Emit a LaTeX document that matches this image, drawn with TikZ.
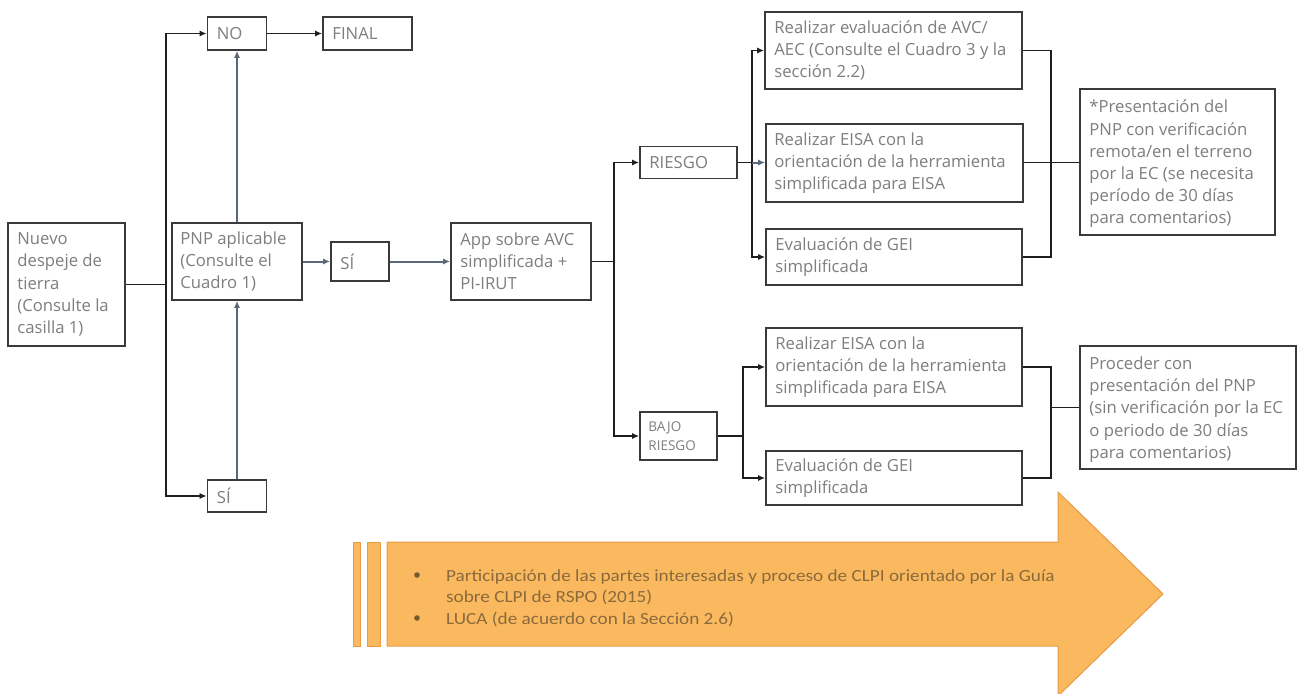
\documentclass[tikz,border=0pt]{standalone}
\usepackage{fontspec}
\newfontfamily\boxfont{Open Sans}
\newfontfamily\arrfont[FakeStretch=1.13]{Carlito}
\usetikzlibrary{arrows.meta,calc}
\definecolor{boxc}{HTML}{3A3A3A}
\definecolor{txtc}{HTML}{7E7E7E}
\definecolor{lnc}{HTML}{1E1E1E}
\definecolor{bluec}{HTML}{5A6878}
\definecolor{arrfill}{HTML}{FAB95F}
\definecolor{arrdraw}{HTML}{E99A45}
\definecolor{arrtxt}{HTML}{8A6A3C}
\definecolor{bulc}{HTML}{75592F}
\begin{document}
\begin{tikzpicture}[x=1pt,y=-1pt,
  box/.style={draw=boxc,line width=1.6pt,rectangle,inner sep=0pt},
  txt/.style={text=txtc,align=left,inner sep=0pt,anchor=west,font=\boxfont\fontsize{16.7}{22.2}\selectfont},
  stxt/.style={text=txtc,align=left,inner sep=0pt,anchor=west,font=\boxfont\fontsize{13.5}{19}\selectfont},
  conn/.style={draw=lnc,line width=1.6pt},
  bconn/.style={draw=bluec,line width=2pt},
  tip/.style={-{Latex[length=7pt,width=6pt]}},
  arrtext/.style={text=arrtxt,inner sep=0pt,anchor=base west,font=\arrfont\fontsize{17}{20}\selectfont}]
\useasboundingbox (0,0) rectangle (1300,693);
\fill[white] (0,0) rectangle (1300,693);

% boxes
\node[box,minimum width=117pt,minimum height=123pt] (nuevo) at (66.5,284.5) {};
\node[txt] at ([xshift=10pt]nuevo.west) {Nuevo\\despeje de\\tierra\\(Consulte la\\casilla 1)};
\node[box,minimum width=59pt,minimum height=33pt] (no) at (237,33.5) {};
\node[txt] at ([xshift=10pt]no.west) {NO};
\node[box,minimum width=89pt,minimum height=33pt] (final) at (367.5,33.5) {};
\node[txt] at ([xshift=10pt]final.west) {FINAL};
\node[box,minimum width=130pt,minimum height=77pt] (pnp) at (237,261.5) {};
\node[txt] at ([xshift=9pt]pnp.west) {PNP aplicable\\(Consulte el\\Cuadro 1)};
\node[box,minimum width=58pt,minimum height=39pt] (si1) at (360,261.5) {};
\node[txt] at ([xshift=10pt]si1.west) {SÍ};
\node[box,minimum width=59pt,minimum height=32pt] (si2) at (237,496) {};
\node[txt] at ([xshift=10pt]si2.west) {SÍ};
\node[box,minimum width=140pt,minimum height=77pt] (app) at (521,261.5) {};
\node[txt] at ([xshift=10pt]app.west) {App sobre AVC\\simplificada +\\PI-IRUT};
\node[box,minimum width=97pt,minimum height=32pt] (riesgo) at (688.5,162.5) {};
\node[txt] at ([xshift=10pt]riesgo.west) {RIESGO};
\node[box,minimum width=77pt,minimum height=48pt] (bajo) at (678.5,436) {};
\node[stxt] at ([xshift=9pt]bajo.west) {BAJO\\RIESGO};
\node[box,minimum width=257pt,minimum height=77pt] (eval) at (893.5,50.5) {};
\node[txt] at ([xshift=10pt]eval.west) {Realizar evaluación de AVC/\\AEC (Consulte el Cuadro 3 y la\\sección 2.2)};
\node[box,minimum width=257pt,minimum height=78pt] (eisa1) at (894.5,163) {};
\node[txt] at ([xshift=9pt]eisa1.west) {Realizar EISA con la\\orientación de la herramienta\\simplificada para EISA};
\node[box,minimum width=256pt,minimum height=56pt] (gei1) at (894,257) {};
\node[txt] at ([xshift=10pt]gei1.west) {Evaluación de GEI\\simplificada};
\node[box,minimum width=195pt,minimum height=146pt] (pres) at (1177.5,162) {};
\node[txt] at ([xshift=10pt,yshift=-2pt]pres.west) {*Presentación del\\PNP con verificación\\remota/en el terreno\\por la EC (se necesita\\período de 30 días\\para comentarios)};
\node[box,minimum width=256pt,minimum height=78pt] (eisa2) at (894,367) {};
\node[txt] at ([xshift=10pt]eisa2.west) {Realizar EISA con la\\orientación de la herramienta\\simplificada para EISA};
\node[box,minimum width=256pt,minimum height=54pt] (gei2) at (894,478) {};
\node[txt] at ([xshift=10pt]gei2.west) {Evaluación de GEI\\simplificada};
\node[box,minimum width=216pt,minimum height=123pt] (proc) at (1188,407.5) {};
\node[txt] at ([xshift=10pt,yshift=-2pt]proc.west) {Proceder con\\presentación del PNP\\(sin verificación por la EC\\o periodo de 30 días\\para comentarios)};

% connectors
\coordinate (j1) at (166,284.5);
\draw[conn] (nuevo.east) -- (j1);
\draw[conn,tip] (j1) |- (no.west);
\draw[conn,tip] (j1) |- (si2.west);
\draw[conn,tip] (no.east) -- (final.west);
\draw[bconn,tip] (pnp.north) -- (no.south);
\draw[bconn,tip] (si2.north) -- (pnp.south);
\draw[bconn,tip] (pnp.east) -- (si1.west);
\draw[bconn,tip] (si1.east) -- (app.west);
\coordinate (j2) at (614,261.5);
\draw[conn] (app.east) -- (j2);
\draw[conn,tip] (j2) |- (riesgo.west);
\draw[conn,tip] (j2) |- (bajo.west);
\coordinate (j3) at (752,162.5);
\draw[conn] (riesgo.east) -- (j3);
\draw[conn,tip] (j3) |- (eval.west);
\draw[conn,tip] (j3) |- (gei1.west);
\draw[bconn,tip] (j3) -- (eisa1.west |- j3);
\coordinate (j4) at (1051,162.5);
\draw[conn] (eval.east) -| (j4);
\draw[conn] (gei1.east) -| (j4);
\draw[conn] (eisa1.east |- j4) -- (pres.west |- j4);
\coordinate (j5) at (743,436);
\draw[conn] (bajo.east) -- (j5);
\draw[conn,tip] (j5) |- (eisa2.west);
\draw[conn,tip] (j5) |- (gei2.west);
\coordinate (j6) at (1051,407.5);
\draw[conn] (eisa2.east) -| (j6);
\draw[conn] (gei2.east) -| (j6);
\draw[conn] (j6) -- (proc.west);

% big arrow
\draw[fill=arrfill,draw=arrdraw,line width=1pt]
  (387,542) -- (1058,542) -- (1058,492) -- (1163,594) -- (1058,696) -- (1058,646) -- (387,646) -- cycle;
\draw[fill=arrfill,draw=arrdraw,line width=1pt] (353,542) rectangle (360,646);
\draw[fill=arrfill,draw=arrdraw,line width=1pt] (367,542) rectangle (380,646);
\fill[bulc] (417,575) circle (2.8pt);
\fill[bulc] (417,618) circle (2.8pt);
\node[arrtext] (t1) at (446,581) {Participación de las partes interesadas y proceso de CLPI orientado por la Guía};
\node[arrtext] (t2) at (446,602) {sobre CLPI de RSPO (2015)};
\node[arrtext] (t3) at (446,624) {LUCA (de acuerdo con la Sección 2.6)};
\end{tikzpicture}
\end{document}
